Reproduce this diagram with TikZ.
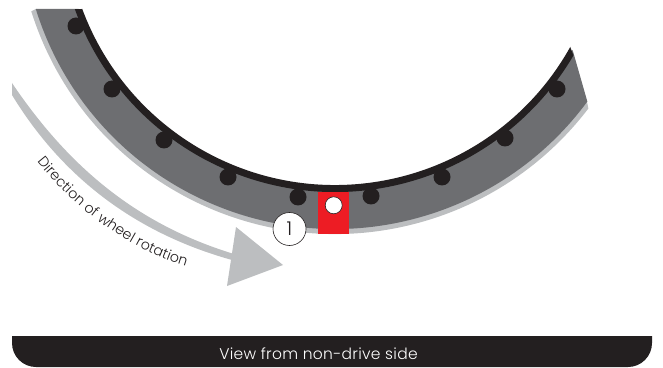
\documentclass[tikz,border=0pt]{standalone}
\usepackage{fontspec}
\usepackage{xcolor}
\setmainfont{Poppins}[UprightFont=* Light]
\newfontfamily\spacedfont{Poppins}[UprightFont=* Light, LetterSpace=2]
\usetikzlibrary{decorations.text}
\definecolor{rimgray}{HTML}{6D6E71}
\definecolor{rimlight}{HTML}{BCBEC0}
\definecolor{rimblack}{HTML}{231F20}
\definecolor{valvered}{HTML}{ED1C24}

\begin{document}
\begin{tikzpicture}[
  x=1pt, y=1pt,
  nipple/.style={circle, fill=rimblack, inner sep=0pt, minimum size=17pt},
  marker/.style={circle, draw=rimblack, line width=0.6pt, fill=white, inner sep=0pt, minimum size=33pt, font=\fontsize{19}{19}\selectfont, text=rimblack},
  hole/.style={circle, draw=rimblack, line width=0.6pt, fill=white, inner sep=0pt, minimum size=17pt},
  barlabel/.style={text=white, font=\spacedfont\fontsize{15.5}{17}\selectfont, inner sep=0pt}
]
\useasboundingbox (0,0) rectangle (663,367);
\coordinate (hub) at (335,451.5);

% rim bands
\fill[rimlight] ([shift={(197.5:318.5)}]hub) arc[start angle=197.5, end angle=322.7, radius=318.5]
  -- ([shift={(323.6:313)}]hub) arc[start angle=323.6, end angle=197.35, radius=313] -- cycle;
\fill[rimgray] ([shift={(197.35:313.5)}]hub) arc[start angle=197.35, end angle=323.6, radius=313.5]
  -- ([shift={(330.5:273)}]hub) arc[start angle=330.5, end angle=200, radius=273] -- cycle;
\fill[rimblack] ([shift={(199.8:276.5)}]hub) arc[start angle=199.8, end angle=329.6, radius=276.5]
  -- ([shift={(330.8:269.5)}]hub) arc[start angle=330.8, end angle=200.3, radius=269.5] -- cycle;

% nipples
\foreach \nx/\ny/\nname in {76/341/a, 112/278/b, 164/227/c, 228/190/d, 298/170/e,
                            371/171/f, 442/190/g, 505/229/h, 557/278/i}
  \node[nipple] (nip\nname) at (\nx,\ny) {};

% valve
\fill[valvered] (318,133) rectangle (349,175);
\node[hole] (valve) at (333.7,161.7) {};
\node[marker] (one) at (289.5,138) {1};

% rotation arrow
\fill[rimlight] (12,284) .. controls (70,198) and (139,142) .. (234,113)
  -- (232,107) .. controls (135,134) and (62,190) .. (12,272) -- cycle;
\fill[rimlight] (236,140) -- (283,102) -- (227,81) -- cycle;
\path[decorate, decoration={text along path, text align=center,
    text={|\fontsize{14.2}{16}\selectfont\color{rimblack}|Direction of wheel rotation}}]
  (35,208) .. controls (75,157) and (130,117) .. (189,100);

% bottom bar
\fill[rimblack] (12,31) -- (652,31) -- (652,24) arc[start angle=0, end angle=-90, radius=24]
  -- (36,0) arc[start angle=270, end angle=180, radius=24] -- cycle;
\node[barlabel] (view) at (318.5,13) {View from non-drive side};
\end{tikzpicture}
\end{document}
